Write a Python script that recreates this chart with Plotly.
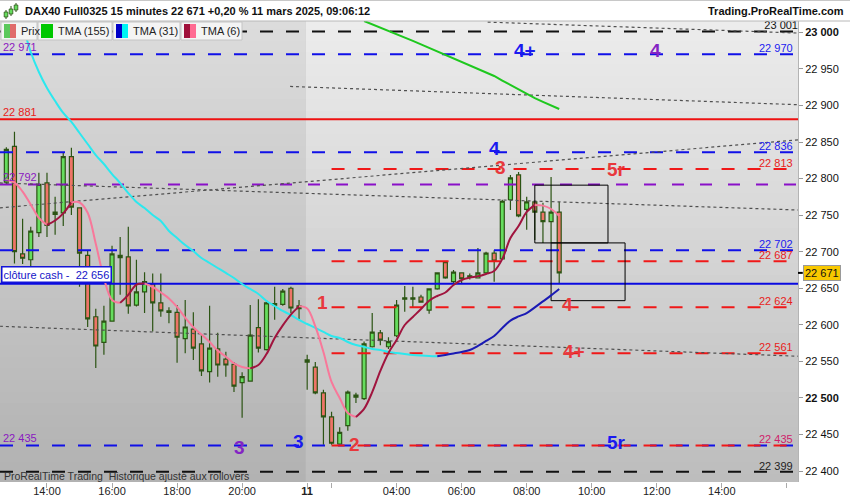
import plotly.graph_objects as go

FONT = "Liberation Sans"

# ---------------- data ----------------
# 15-minute bar slots: slot 0 = 10 Mar 14:00, slot 32 = first bar of 11 Mar
slots = list(range(-5, 64))
opens = [22795, 22844, 22697, 22689, 22726, 22794, 22754, 22753, 22830, 22760,
         22695, 22611, 22576, 22605, 22692, 22693, 22627, 22645, 22656, 22630,
         22619, 22617, 22581, 22594, 22574, 22536, 22567, 22553, 22546, 22521,
         22523, 22596, 22566, 22627, 22628, 22650, 22626,
         22549, 22542, 22507, 22474, 22437, 22462, 22501, 22499, 22570, 22589,
         22570, 22585, 22635, 22635, 22638, 22620, 22649, 22685, 22659, 22671,
         22665, 22664, 22671, 22698, 22690, 22771, 22805, 22758, 22768, 22754,
         22741, 22754]
highs = [22843, 22864, 22745, 22734, 22808, 22808, 22775, 22835, 22842, 22760,
         22702, 22622, 22626, 22708, 22720, 22734, 22689, 22672, 22670, 22670,
         22624, 22627, 22634, 22617, 22586, 22626, 22589, 22563, 22549, 22535,
         22627, 22635, 22634, 22652, 22649, 22652, 22634,
         22559, 22549, 22511, 22481, 22460, 22510, 22507, 22577, 22616, 22593,
         22583, 22634, 22653, 22652, 22641, 22650, 22672, 22686, 22675, 22672,
         22670, 22705, 22700, 22702, 22771, 22805, 22809, 22775, 22769, 22767,
         22802, 22768]
lows = [22792, 22684, 22683, 22679, 22720, 22720, 22723, 22735, 22750, 22652,
        22597, 22541, 22559, 22604, 22641, 22615, 22625, 22616, 22591, 22611,
        22602, 22548, 22561, 22552, 22530, 22521, 22529, 22529, 22508, 22473,
        22523, 22562, 22565, 22607, 22626, 22616, 22608,
        22511, 22505, 22436, 22436, 22436, 22455, 22493, 22497, 22569, 22572,
        22567, 22583, 22618, 22624, 22630, 22615, 22648, 22663, 22657, 22657,
        22662, 22664, 22670, 22659, 22689, 22757, 22747, 22730, 22716, 22712,
        22712, 22657]
closes = [22840, 22700, 22691, 22728, 22792, 22736, 22751, 22830, 22761, 22698,
          22608, 22571, 22605, 22697, 22695, 22626, 22645, 22659, 22630, 22619,
          22617, 22583, 22597, 22568, 22537, 22568, 22545, 22545, 22516, 22529,
          22586, 22568, 22630, 22629, 22646, 22623, 22622,
          22552, 22507, 22474, 22438, 22453, 22508, 22504, 22574, 22590, 22579,
          22577, 22627, 22637, 22637, 22631, 22649, 22671, 22664, 22672, 22663,
          22667, 22671, 22698, 22687, 22769, 22801, 22749, 22768, 22754, 22741,
          22754, 22671]

# moving averages
tma6_slots = list(range(-5, 64))
tma6 = [22798.0, 22794.5, 22782.2, 22764.4, 22746.3, 22736.5, 22742.6, 22752.4, 22767.4, 22767.3,
        22753.3, 22710.8, 22664.0, 22634.0, 22630.0, 22641.0, 22655.0, 22656.4, 22651.7, 22644.2,
        22636.1, 22624.4, 22609.8, 22596.7, 22586.7, 22576.5, 22564.7, 22556.3, 22547.2, 22542.3,
        22540.4, 22545.0, 22560.0, 22582.0, 22599.2, 22614.0, 22625.2, 22622.2, 22597.8, 22562.8,
        22521.8, 22500.0, 22479.4, 22474.0, 22485.0, 22508.0, 22537.0, 22561.5, 22579.3, 22599.7,
        22610.7, 22621.6, 22633.0, 22639.4, 22644.2, 22654.4, 22661.3, 22664.5, 22666.3, 22669.5,
        22673.6, 22690.0, 22718.7, 22735.0, 22754.3, 22764.0, 22763.0, 22758.4, 22748.8]
tma31_slots = list(range(-3, 64))
tma31 = [23011.4, 22973.1, 22945.7, 22923.9, 22906.0, 22889.7, 22877.4, 22862.3, 22847.3, 22832.2,
         22819.9, 22806.2, 22793.9, 22780.2, 22767.9, 22759.7, 22750.2, 22742.0, 22728.3, 22718.7,
         22709.1, 22700.9, 22691.4, 22684.5, 22677.7, 22670.9, 22664.0, 22655.8, 22649.0, 22642.2,
         22632.6, 22625.7, 22618.9, 22613.4, 22606.6, 22601.1, 22595.7, 22590.2, 22584.7, 22582.0,
         22576.5, 22572.4, 22569.7, 22567.0, 22565.6, 22562.9, 22561.5, 22560.1, 22558.8, 22558.0,
         22557.4, 22557.0, 22558.8, 22560.8, 22562.9, 22565.6, 22571.1, 22577.9, 22584.7, 22595.6,
         22605.8, 22611.4, 22616.0, 22623.8, 22632.0, 22640.2, 22649.0]
tma155_slots = list(range(39, 64))
tma155 = [23015.5, 23011.0, 23006.9, 23002.8, 22998.2, 22993.3, 22988.4, 22983.6, 22978.8, 22973.9,
          22969.0, 22964.2, 22959.4, 22954.6, 22950.0, 22945.3, 22940.3, 22934.1, 22928.0, 22921.8,
          22915.6, 22909.9, 22904.8, 22899.9, 22895.1]

# x-axis ticks
tick_slots = [0, 8, 16, 24, 32, 35, 43, 51, 59, 67, 75, 83, 91]
tick_labels = ["14:00", "16:00", "18:00", "20:00", "<b>11</b>", "", "04:00", "06:00",
               "08:00", "10:00", "12:00", "14:00", ""]
price_ticks = list(range(22400, 23001, 50))

# horizontal levels: price, first slot, style key
level_prices = [23001, 22970, 22881, 22836, 22813, 22792, 22702, 22687, 22656, 22624, 22561, 22435, 22435, 22399]
level_from = [None, None, None, None, 35, None, None, 35, None, 35, 35, None, 35, None]
level_kind = ["black", "blue", "redsolid", "blue", "red", "purple", "blue", "red", "bluesolid",
              "red", "red", "blue", "red", "black"]

right_label_text = ["22 970", "22 836", "22 813", "22 702", "22 687", "22 624", "22 561", "22 435", "22 399"]
right_label_price = [22970, 22836, 22813, 22702, 22687, 22624, 22561, 22435, 22399]
right_label_kind = ["blue", "blue", "red", "blue", "red", "red", "red", "magenta", "black"]
top_label_text = "23 001"
top_label_price = 23001
left_label_text = ["22 971", "22 881", "22 792", "22 435"]
left_label_price = [22970, 22881, 22792, 22435]
left_label_kind = ["purple", "redsolid", "purple", "purple"]
cash_close = 22656
last_price = 22671

# wave-count labels: text, slot, level price, colour key
wave_text = ["4+", "4", "4", "3", "5r", "1", "4", "4+", "3", "3", "2", "5r"]
wave_slot = [58.8, 74.9, 55.0, 55.8, 70.1, 33.9, 64.0, 64.8, 23.7, 30.9, 37.8, 70.1]
wave_price = [22970, 22970, 22836, 22813, 22813, 22624, 22624, 22561, 22435, 22435, 22435, 22435]
wave_kind = ["blue", "purple", "blue", "red", "red", "red", "red", "red", "purple", "blue", "red", "blue"]

# dotted trend lines (slot, price) -> (slot, price)
trend_x0 = [54.2, 29.9, -5.8, -5.8, -5.8]
trend_y0 = [23014, 22926, 22760, 22794, 22598]
trend_x1 = [92.4, 92.4, 92.4, 92.4, 92.4]
trend_y1 = [22999, 22901, 22853, 22757, 22557]

# boxes (slot0, slot1, price_low, price_high)
box_x0 = [60.0, 62.0]
box_x1 = [69.0, 71.1]
box_lo = [22712, 22633]
box_hi = [22791, 22712]

# ---------------- style ----------------
XMIN, XMAX = -5.78, 92.37
YMIN, YMAX = 22385.0, 23015.5
SESSION_BREAK = 31.85
COL = {"blue": "#1010e8", "red": "#f01818", "purple": "#8a10c8", "black": "#111111",
       "redsolid": "#ee1111", "bluesolid": "#0a0ae0", "magenta": "#d0206a"}
LBL = {"blue": "#2020f0", "red": "#e81c1c", "purple": "#8a18c0", "black": "#222222",
       "redsolid": "#e82020", "magenta": "#d0206a"}
WAVE = {"blue": "#1a1af0", "red": "#e8383c", "purple": "#8424c4"}
WICK = "#2c5414"

fig = go.Figure()

# background gradient as banded heatmaps (drawn beneath every other trace)
NB = 40
band_edges = [YMIN - 5 + (YMAX - YMIN + 10) * i / NB for i in range(NB + 1)]
for x0, x1, top, bot in [(XMIN - 1, SESSION_BREAK, "#dcdcdc", "#b2b2b2"),
                         (SESSION_BREAK, XMAX + 1, "#ececec", "#bdbdbd")]:
    fig.add_trace(go.Heatmap(
        x=[x0, x1], y=band_edges, z=[[i] for i in range(NB)],
        colorscale=[[0, bot], [1, top]], showscale=False, hoverinfo="skip", zsmooth=False))

# candles
fig.add_trace(go.Candlestick(
    x=slots, open=opens, high=highs, low=lows, close=closes,
    increasing=dict(fillcolor="#66dd5e", line=dict(color=WICK, width=1.2)),
    decreasing=dict(fillcolor="#ee7468", line=dict(color=WICK, width=1.2)),
    whiskerwidth=0, hoverinfo="skip"))

# horizontal levels
for p, f, k in zip(level_prices, level_from, level_kind):
    x0 = XMIN if f is None else f
    if k in ("redsolid", "bluesolid"):
        dash = "solid"
    elif k == "purple":
        dash = "12px,16px"
    else:
        dash = "13px,13px"
    fig.add_trace(go.Scatter(x=[x0, XMAX], y=[p, p], mode="lines",
                             line=dict(color=COL[k], width=2, dash=dash), hoverinfo="skip"))

# dotted trend lines
for a, b, c, d in zip(trend_x0, trend_y0, trend_x1, trend_y1):
    fig.add_trace(go.Scatter(x=[a, c], y=[b, d], mode="lines",
                             line=dict(color="#505050", width=1.2, dash="3px,3px"), hoverinfo="skip"))

# boxes
for a, b, lo, hi in zip(box_x0, box_x1, box_lo, box_hi):
    fig.add_trace(go.Scatter(x=[a, b, b, a, a], y=[lo, lo, hi, hi, lo], mode="lines",
                             line=dict(color="#000000", width=1), hoverinfo="skip"))


def runs(xs, ys):
    out = []
    for i in range(len(xs) - 1):
        up = ys[i + 1] >= ys[i]
        if out and out[-1][0] == up:
            out[-1][1].append(xs[i + 1]); out[-1][2].append(ys[i + 1])
        else:
            out.append([up, [xs[i], xs[i + 1]], [ys[i], ys[i + 1]]])
    return out


fig.add_trace(go.Scatter(x=tma155_slots, y=tma155, mode="lines", line=dict(color="#1ec81e", width=2),
                         hoverinfo="skip"))
for up, xs, ys in runs(tma31_slots, tma31):
    fig.add_trace(go.Scatter(x=xs, y=ys, mode="lines", line_shape="spline",
                             line=dict(color="#1a1ab4" if up else "#2ce8ee", width=2), hoverinfo="skip"))
for up, xs, ys in runs(tma6_slots, tma6):
    fig.add_trace(go.Scatter(x=xs, y=ys, mode="lines", line_shape="spline",
                             line=dict(color="#a0143e" if up else "#f8789a", width=2), hoverinfo="skip"))

# top label clipped at plot top
fig.add_trace(go.Scatter(x=[XMAX], y=[top_label_price], mode="text", text=[top_label_text],
                         textposition="top left", cliponaxis=True,
                         textfont=dict(family=FONT, size=11, color="#111"), hoverinfo="skip"))

ann = []
for t, p, k in zip(right_label_text, right_label_price, right_label_kind):
    ann.append(dict(x=1, xref="paper", y=p, yref="y", text=t, showarrow=False, xanchor="right",
                    yanchor="bottom", xshift=-3, yshift=-2,
                    font=dict(family=FONT, size=11, color=LBL[k])))
for t, p, k in zip(left_label_text, left_label_price, left_label_kind):
    ann.append(dict(x=0, xref="paper", y=p, yref="y", text=t, showarrow=False, xanchor="left",
                    yanchor="bottom", xshift=1, yshift=-1,
                    font=dict(family=FONT, size=11, color=LBL[k])))
ann.append(dict(x=0, xref="paper", y=cash_close, yref="y", text="clôture cash -\u00a0 22 656",
                showarrow=False, xanchor="left", yanchor="bottom", xshift=1, yshift=1,
                bgcolor="white", bordercolor="#1414d8", borderwidth=1.5, borderpad=1,
                font=dict(family=FONT, size=11, color="#1414c8")))
shifts = [4, 4, 4, 2, 0, 5, 3, 2, -2, 4, 1, 3]
for t, s, p, k, sh in zip(wave_text, wave_slot, wave_price, wave_kind, shifts):
    ann.append(dict(x=s, y=p, xref="x", yref="y", text="<b>%s</b>" % t, showarrow=False,
                    yshift=sh, font=dict(family=FONT, size=19, color=WAVE[k])))
# last price box
ann.append(dict(x=1, xref="paper", y=last_price, yref="y", text="22 671", showarrow=False,
                xanchor="left", xshift=5, bgcolor="#f8c800", bordercolor="#9a9a9a", borderwidth=1,
                borderpad=1, font=dict(family=FONT, size=11, color="#111")))


def px(x):
    return x / 798.0


def py(y):
    return (482.0 - y) / 461.0


# header
ann.append(dict(x=px(23), y=py(11), xref="paper", yref="paper", xanchor="left", yanchor="middle",
                text="<b>DAX40 Full0325 15 minutes 22 671 +0,20 % 11 mars 2025, 09:06:12</b>",
                showarrow=False, font=dict(family=FONT, size=11, color="#111")))
ann.append(dict(x=px(846), y=py(11), xref="paper", yref="paper", xanchor="right", yanchor="middle",
                text="<b>Trading.ProRealTime.com</b>", showarrow=False,
                font=dict(family=FONT, size=11, color="#111")))
ann.append(dict(x=px(2), y=py(476), xref="paper", yref="paper", xanchor="left", yanchor="middle",
                text="ProRealTime Trading\u00a0 Historique ajusté aux rollovers", showarrow=False,
                font=dict(family=FONT, size=10.5, color="#333")))

shapes = []
shapes.append(dict(type="line", xref="paper", yref="paper", x0=px(0), x1=px(850), y0=py(21), y1=py(21),
                   line=dict(color="#b8b8b8", width=1)))
shapes.append(dict(type="line", xref="paper", yref="paper", x0=px(0), x1=px(850), y0=py(0.5), y1=py(0.5),
                   line=dict(color="#c8c8c8", width=1)))
# header icon
for cx, y0, y1, b0, b1 in [(6, 10, 19, 12, 17), (11, 6, 16, 9, 14), (16, 3, 12, 5, 10)]:
    shapes.append(dict(type="line", xref="paper", yref="paper", x0=px(cx), x1=px(cx), y0=py(y0), y1=py(y1),
                       line=dict(color=WICK, width=1)))
    shapes.append(dict(type="rect", xref="paper", yref="paper", x0=px(cx - 1.8), x1=px(cx + 1.8),
                       y0=py(b0), y1=py(b1), fillcolor="#66dd5e", line=dict(color=WICK, width=0.8)))
# legend boxes
legend_items = [("Prix", 1, 37, "#5cc85c", "#e06a6a"), ("TMA (155)", 38, 112, "#00c800", "#00c800"),
                ("TMA (31)", 113, 180, "#0000c8", "#00f4f4"), ("TMA (6)", 181, 242, "#a0103a", "#ff6a92")]
for name, x0, x1, c1, c2 in legend_items:
    shapes.append(dict(type="rect", xref="paper", yref="paper", x0=px(x0), x1=px(x1), y0=py(40), y1=py(22),
                       fillcolor="#f4f4f4", line=dict(color="#c4c4c4", width=1)))
    shapes.append(dict(type="rect", xref="paper", yref="paper", x0=px(x0 + 3), x1=px(x0 + 9), y0=py(38),
                       y1=py(24), fillcolor=c1, line=dict(width=0)))
    shapes.append(dict(type="rect", xref="paper", yref="paper", x0=px(x0 + 9), x1=px(x0 + 15), y0=py(38),
                       y1=py(24), fillcolor=c2, line=dict(width=0)))
    ann.append(dict(x=px(x0 + 18), y=py(31), xref="paper", yref="paper", xanchor="left", yanchor="middle",
                    text=name, showarrow=False, font=dict(family=FONT, size=11, color="#222")))
# last price tick
shapes.append(dict(type="line", xref="paper", yref="y", x0=1.0, x1=1.006, y0=last_price, y1=last_price,
                   line=dict(color="#000", width=2)))

price_text = []
for v in price_ticks:
    s = "%d %03d" % (v // 1000, v % 1000)
    price_text.append("<b>%s</b>" % s if v % 500 == 0 else s)

fig.update_layout(
    width=850, height=500, margin=dict(l=0, r=52, t=21, b=18),
    paper_bgcolor="white", plot_bgcolor="#d0d0d0", showlegend=False,
    annotations=ann, shapes=shapes,
    xaxis=dict(range=[XMIN, XMAX], tickvals=tick_slots, ticktext=tick_labels, ticks="outside",
               ticklen=5, tickcolor="#aaaaaa", showgrid=False, zeroline=False, showline=False,
               rangeslider=dict(visible=False), automargin=False, ticklabelstandoff=-6,
               tickfont=dict(family=FONT, size=11, color="#222")),
    yaxis=dict(side="right", range=[YMIN, YMAX], tickvals=price_ticks, ticktext=price_text,
               ticks="outside", ticklen=4, tickcolor="#999999", showgrid=False, zeroline=False,
               showline=True, linecolor="#b4b4b4", automargin=False,
               tickfont=dict(family=FONT, size=11, color="#111")),
)

fig.write_html("out.html", config={"displayModeBar": False},
               post_script="document.body.style.margin='0';document.body.style.overflow='hidden';")
